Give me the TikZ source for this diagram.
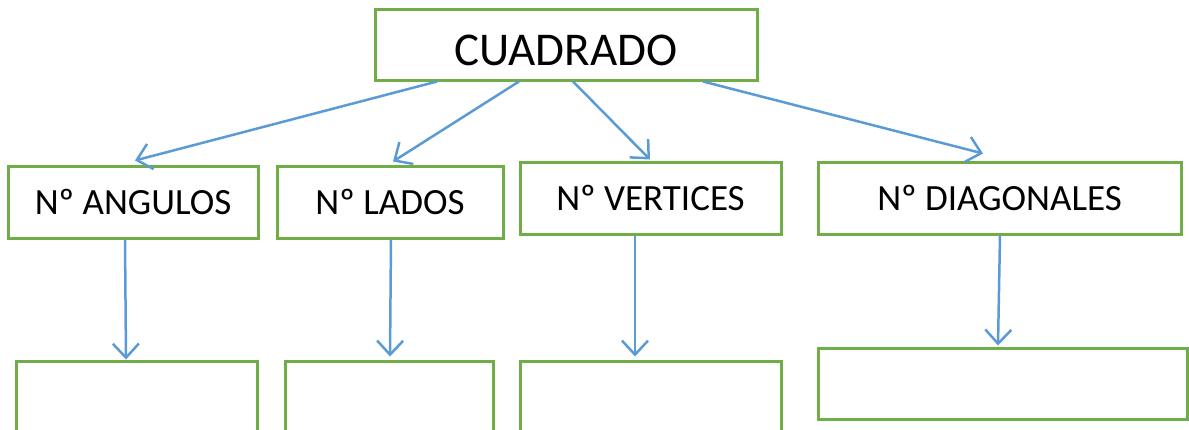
\documentclass[tikz,border=0pt]{standalone}
\usepackage{fontspec}
\setmainfont{Carlito}
\usetikzlibrary{arrows.meta}
\definecolor{boxgreen}{RGB}{112,173,71}
\definecolor{arrowblue}{RGB}{91,155,213}
\begin{document}
\begin{tikzpicture}[x=1pt, y=-1pt,
  box/.style={draw=boxgreen, line width=3pt, inner sep=0pt, align=center, font=\fontsize{37}{40}\selectfont},
  link/.style={draw=arrowblue, line width=2.5pt, -{Straight Barb[length=14pt, width=26pt, line width=2.5pt]}}]
\useasboundingbox (0,0) rectangle (1189,429);
% root
\node[box, minimum width=382pt, minimum height=71pt, text height=45pt, text depth=4pt, font=\fontsize{47}{50}\selectfont] (root) at (566,44.5) {CUADRADO};
% second row
\node[box, minimum width=250pt, minimum height=72pt] (ang) at (133,202) {Nº ANGULOS};
\node[box, minimum width=226pt, minimum height=72pt] (lad) at (390,202) {Nº LADOS};
\node[box, minimum width=261pt, minimum height=72pt] (ver) at (650.5,198) {Nº VERTICES};
\node[box, minimum width=363pt, minimum height=72pt] (dia) at (999.5,198) {Nº DIAGONALES};
% empty boxes
\node[box, minimum width=241pt, minimum height=90pt] (angv) at (136.5,406) {};
\node[box, minimum width=208pt, minimum height=90pt] (ladv) at (389,406) {};
\node[box, minimum width=261pt, minimum height=90pt] (verv) at (650.5,406) {};
\node[box, minimum width=369pt, minimum height=71pt] (diav) at (1003,383.5) {};
% connectors
\draw[link] ([xshift=-129pt]root.south) -- ([xshift=2pt, yshift=4pt]ang.north);
\draw[link] ([xshift=-47pt]root.south) -- ([xshift=3pt, yshift=3pt]lad.north);
\draw[link] ([xshift=7pt]root.south) -- ([xshift=-0.5pt, yshift=1pt]ver.north);
\draw[link] ([xshift=137pt]root.south) -- ([xshift=-16.5pt, yshift=7pt]dia.north);
\draw[link] ([xshift=-8pt]ang.south) -- ([xshift=-10.5pt]angv.north);
\draw[link] ([xshift=1pt]lad.south) -- ([xshift=1pt, yshift=3pt]ladv.north);
\draw[link] ([xshift=-15.5pt]ver.south) -- ([xshift=-15.5pt, yshift=3pt]verv.north);
\draw[link] ([xshift=0.5pt]dia.south) -- ([xshift=-5pt, yshift=1pt]diav.north);
\end{tikzpicture}
\end{document}
